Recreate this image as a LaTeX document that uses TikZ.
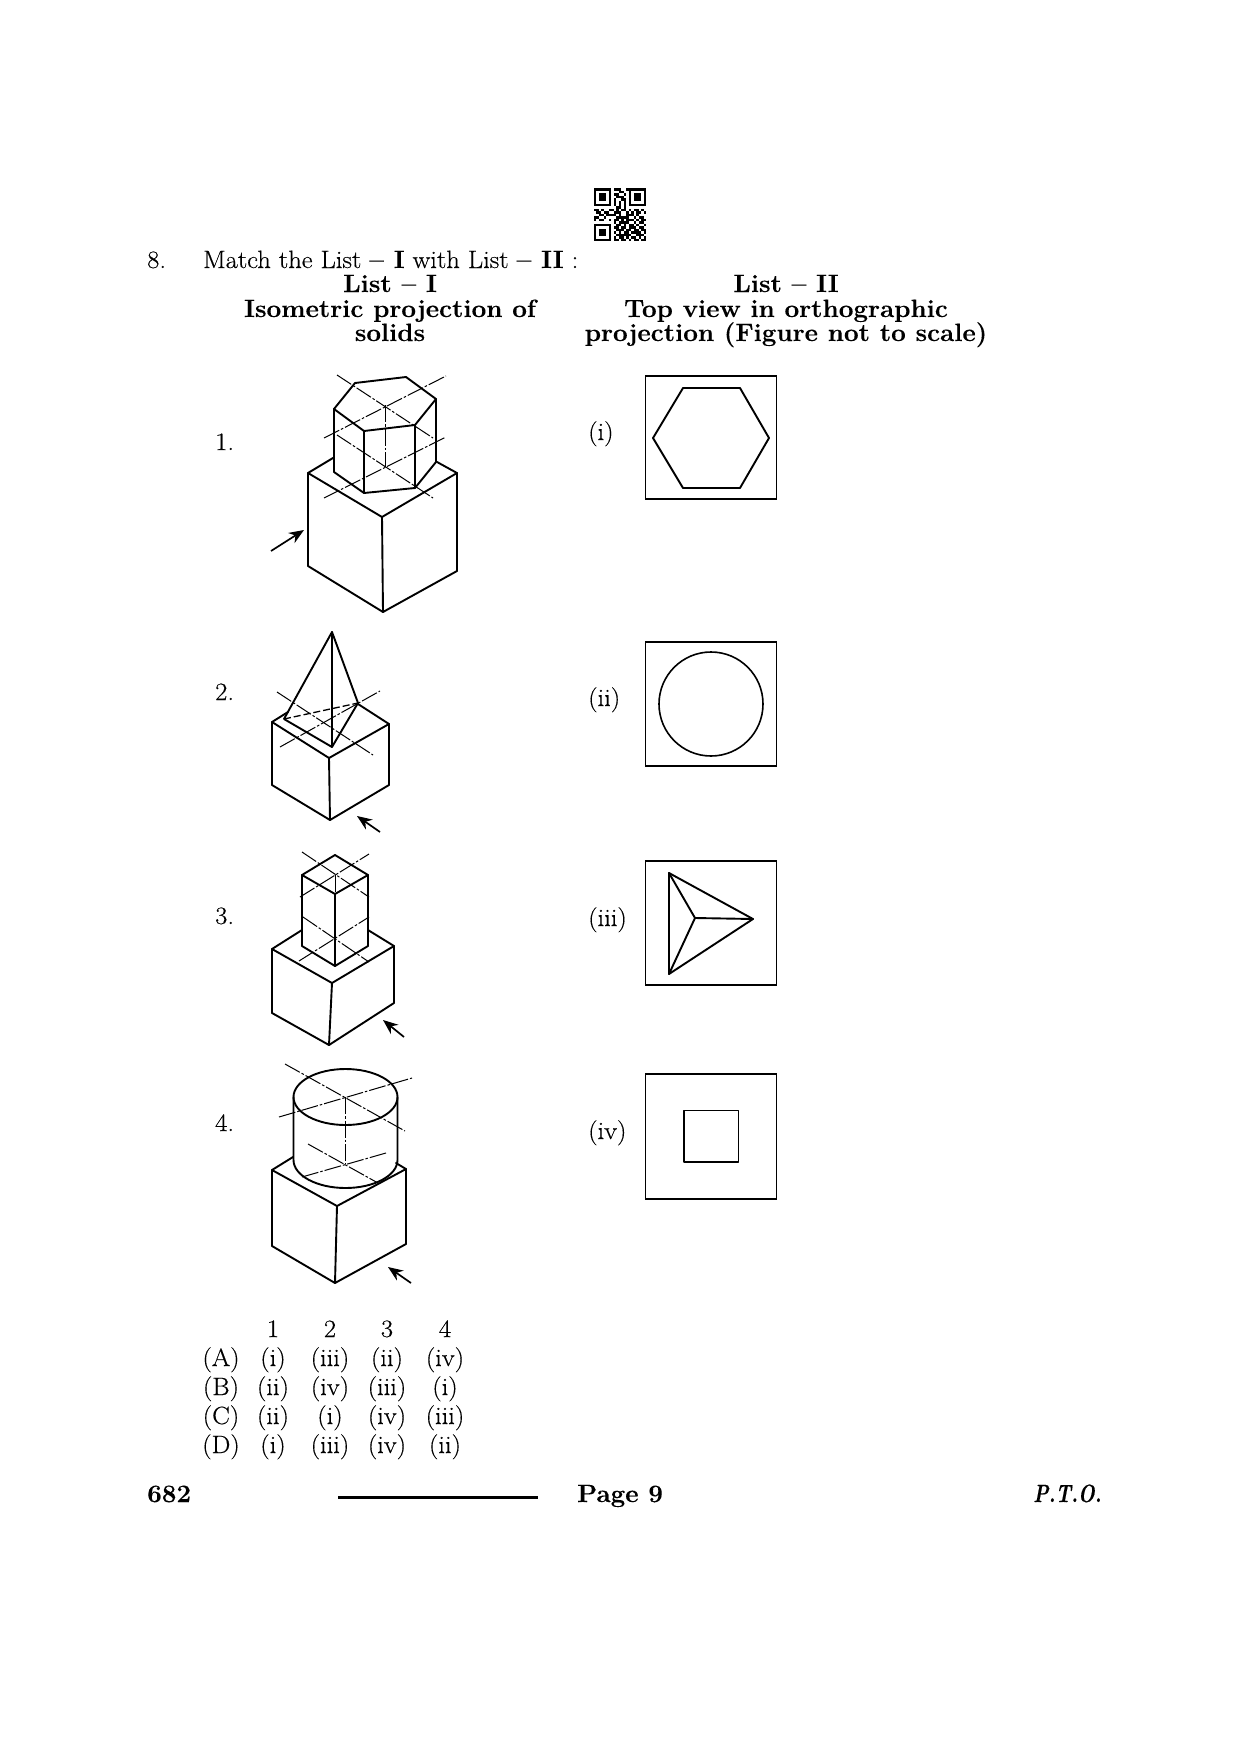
\documentclass[tikz,border=0pt]{standalone}
\usepackage{graphicx}
\usepackage{fontspec}
\setmainfont{Latin Modern Roman}[FakeStretch=1.06,FakeBold=0.35,BoldFeatures={FakeStretch=1.04,FakeBold=0.2},BoldItalicFeatures={FakeStretch=1.0}]
\usetikzlibrary{arrows.meta}
\tikzset{
  solid line/.style={line width=1.9pt,line join=round,line cap=round},
  center line/.style={line width=1pt,dash pattern=on 17pt off 2pt on 2.5pt off 2pt},
  hidden line/.style={line width=1.3pt,dash pattern=on 7pt off 3pt},
  view arrow/.style={line width=1.7pt,-{Stealth[length=15pt,width=12pt]}},
  frame box/.style={line width=1.5pt},
  bottom edge/.style={line width=2.6pt},
  txt/.style={inner sep=0pt,anchor=base,font=\fontsize{25}{28}\selectfont},
  txtl/.style={inner sep=0pt,anchor=base west,font=\fontsize{25}{28}\selectfont},
  head/.style={inner sep=0pt,anchor=base,font=\fontsize{25}{28}\selectfont\bfseries},
  qr cell/.style={fill=black,draw=none},
}
\begin{document}
\begin{tikzpicture}[x=1pt,y=-1pt]
\useasboundingbox (0,0) rectangle (1241,1755);
\fill[white] (0,0) rectangle (1241,1755);

% QR code
\foreach \r [count=\j from 0] in {
{1,1,1,1,1,1,1,0,1,1,1,0,0,1,1,1,1,1,1,1,1},
{1,0,0,0,0,0,1,0,0,0,1,1,0,0,1,0,0,0,0,0,1},
{1,0,1,1,1,0,1,0,1,1,0,0,1,0,1,0,1,1,1,0,1},
{1,0,1,1,1,0,1,0,0,1,1,1,0,0,1,0,1,1,1,0,1},
{1,0,1,1,1,0,1,0,1,0,0,1,1,0,1,0,1,1,1,0,1},
{1,0,0,0,0,0,1,0,1,0,1,0,1,0,1,0,0,0,0,0,1},
{1,1,1,1,1,1,1,0,1,0,1,0,1,0,1,1,1,1,1,1,1},
{0,0,0,0,0,0,0,0,0,1,1,0,1,0,0,0,0,0,0,0,0},
{1,1,0,1,0,0,1,1,0,1,0,1,1,0,1,0,1,1,0,1,0},
{0,1,1,0,1,1,0,0,1,1,1,0,0,1,0,1,0,1,1,0,1},
{0,0,1,1,0,1,1,1,1,0,1,0,0,1,1,1,0,1,0,0,0},
{1,1,0,0,1,0,0,0,0,1,1,1,1,1,0,0,1,0,1,1,0},
{1,0,1,1,0,0,1,0,1,1,0,1,0,1,1,1,0,1,0,1,1},
{0,0,0,0,0,0,0,0,1,0,1,1,1,1,0,0,1,0,1,1,0},
{1,1,1,1,1,1,1,0,0,1,1,0,1,0,1,1,0,1,0,0,1},
{1,0,0,0,0,0,1,0,1,1,0,1,1,0,1,1,1,0,1,1,0},
{1,0,1,1,1,0,1,0,0,1,1,1,0,1,1,0,1,1,0,1,1},
{1,0,1,1,1,0,1,0,1,0,1,0,1,1,0,1,1,1,1,0,1},
{1,0,1,1,1,0,1,0,0,1,1,1,1,1,1,0,0,1,1,1,0},
{1,0,0,0,0,0,1,0,1,0,1,1,0,1,0,1,1,0,1,0,1},
{1,1,1,1,1,1,1,0,1,1,0,1,1,0,1,0,1,1,0,1,1}}
{
  \foreach \b [count=\i from 0] in \r {
    \ifnum\b=1
      \fill[qr cell] ({593.5+\i*2.5},{188.5+\j*2.5}) rectangle ({593.5+(\i+1)*2.5},{188.5+(\j+1)*2.5});
    \fi
  }
}

% Heading
\node[txtl] (qno) at (147,268) {8.};
\node[txtl] (stem) at (203,268) {Match the List \textbf{-- I} with List \textbf{-- II} :};
\node[head] (h1a) at (390,292) {List -- I};
\node[head] (h1b) at (390,317) {Isometric projection of};
\node[head] (h1c) at (390,341) {solids};
\node[head] (h2a) at (786,292) {List -- II};
\node[head] (h2b) at (786,317) {Top view in orthographic};
\node[head] (h2c) at (786,341) {projection (Figure not to scale)};

% Figure numbers
\node[txtl] (n1) at (215,450) {1.};
\node[txtl] (n2) at (215,700) {2.};
\node[txtl] (n3) at (215,924) {3.};
\node[txtl] (n4) at (215,1131) {4.};

% Figure 1: hexagonal prism on a cube
\draw[solid line] (333,458) -- (308,473) -- (382,517) -- (457,473) -- (437,462);
\draw[solid line] (308,473) -- (308,566) -- (383,612) -- (457,571) -- (457,473);
\draw[solid line] (382,517) -- (383,612);
\draw[solid line] (355,383) -- (406,377) -- (436,399) -- (415,425) -- (364,431) -- (334,409) -- cycle;
\draw[solid line] (334,409) -- (334,472) -- (364,493) -- (415,488) -- (436,462) -- (436,399);
\draw[solid line] (364,431) -- (364,493);
\draw[solid line] (415,425) -- (415,488);
\draw[center line] (337,375) -- (433,438);
\draw[center line] (324,438) -- (446,376);
\draw[center line] (337,435) -- (433,498);
\draw[center line] (324,498) -- (446,437);
\draw[center line] (385,405) -- (385,467);
\draw[view arrow] (271,551) -- (304,530);

% Figure 2: pyramid on a cube
\draw[solid line] (288,712) -- (272,722) -- (329,758) -- (389,724) -- (358,704);
\draw[solid line] (272,722) -- (272,785) -- (330,820) -- (389,785) -- (389,724);
\draw[solid line] (329,758) -- (330,820);
\draw[solid line] (284,719) -- (332,632) -- (358,703) -- (332,747) -- cycle;
\draw[solid line] (332,632) -- (332,747);
\draw[hidden line] (284,719) -- (358,703);
\draw[center line] (277,692) -- (373,755);
\draw[center line] (280,747) -- (380,691);
\draw[view arrow] (380,832) -- (357,816);

% Figure 3: square prism on a cube
\draw[solid line] (302,930) -- (272,949) -- (332,983) -- (394,946) -- (368,930);
\draw[solid line] (272,949) -- (272,1013) -- (329,1045) -- (394,1003) -- (394,946);
\draw[solid line] (332,983) -- (329,1045);
\draw[solid line] (335,855) -- (368,875) -- (335,894) -- (302,875) -- cycle;
\draw[solid line] (302,875) -- (302,946) -- (335,966) -- (368,946) -- (368,875);
\draw[solid line] (335,894) -- (335,966);
\draw[center line] (302,852) -- (369,897);
\draw[center line] (300,897) -- (369,854);
\draw[center line] (303,917) -- (369,962);
\draw[center line] (299,961) -- (369,917);
\draw[center line] (335,875) -- (335,938);
\draw[view arrow] (404,1037) -- (383,1020);

% Figure 4: cylinder on a cube
\draw[solid line] (293,1157) -- (272,1170) -- (337,1206) -- (406,1169) -- (396,1163);
\draw[solid line] (272,1170) -- (272,1246) -- (335,1283) -- (406,1244) -- (406,1169);
\draw[solid line] (337,1206) -- (335,1283);
\draw[solid line] (345.5,1097) ellipse [x radius=52pt,y radius=28pt];
\draw[solid line] (293.5,1097) -- (293.5,1160) arc [start angle=180,end angle=360,x radius=52pt,y radius=28pt] -- (397.5,1097);
\draw[center line] (285,1064) -- (405,1131);
\draw[center line] (279,1117) -- (412,1078);
\draw[center line] (308,1144) -- (378,1183);
\draw[center line] (302,1177) -- (386,1153);
\draw[center line] (345.5,1097) -- (345.5,1164);
\draw[view arrow] (411,1283) -- (388,1267);

% List II boxes
\node[txtl] (li) at (588,440) {(i)};
\draw[frame box] (645.5,376) rectangle (776.5,499);
\draw[bottom edge] (645,499) -- (777,499);
\draw[solid line] (653,438) -- (683,388) -- (740,388) -- (769,438) -- (740,488) -- (683,488) -- cycle;

\node[txtl] (lii) at (588,706) {(ii)};
\draw[frame box] (645.5,642) rectangle (776.5,766);
\draw[solid line,line width=1.6pt] (711,704) circle [radius=52pt];

\node[txtl] (liii) at (588,926) {(iii)};
\draw[frame box] (645.5,861) rectangle (776.5,985);
\draw[bottom edge] (645,985) -- (777,985);
\draw[solid line] (669,873) -- (753,919) -- (669,974) -- cycle;
\draw[solid line] (669,873) -- (695,918) -- (669,974);
\draw[solid line] (695,918) -- (753,919);

\node[txtl] (liv) at (588,1139) {(iv)};
\draw[frame box] (645.5,1074) rectangle (776.5,1199);
\draw[bottom edge] (645,1199) -- (777,1199);
\draw[solid line,line width=1.6pt] (684,1110.5) rectangle (738.5,1162);

% Answer table
\node[txt] (c1) at (273,1337) {1};
\node[txt] (c2) at (330,1337) {2};
\node[txt] (c3) at (387,1337) {3};
\node[txt] (c4) at (445,1337) {4};
\node[txt] (ra) at (221,1366) {(A)};
\node[txt] (a1) at (273,1366) {(i)};
\node[txt] (a2) at (330,1366) {(iii)};
\node[txt] (a3) at (387,1366) {(ii)};
\node[txt] (a4) at (445,1366) {(iv)};
\node[txt] (rb) at (221,1395) {(B)};
\node[txt] (b1) at (273,1395) {(ii)};
\node[txt] (b2) at (330,1395) {(iv)};
\node[txt] (b3) at (387,1395) {(iii)};
\node[txt] (b4) at (445,1395) {(i)};
\node[txt] (rc) at (221,1424) {(C)};
\node[txt] (c1r) at (273,1424) {(ii)};
\node[txt] (c2r) at (330,1424) {(i)};
\node[txt] (c3r) at (387,1424) {(iv)};
\node[txt] (c4r) at (445,1424) {(iii)};
\node[txt] (rd) at (221,1453) {(D)};
\node[txt] (d1) at (273,1453) {(i)};
\node[txt] (d2) at (330,1453) {(iii)};
\node[txt] (d3) at (387,1453) {(iv)};
\node[txt] (d4) at (445,1453) {(ii)};

% Footer
\node[txtl,font=\fontsize{25}{28}\selectfont\bfseries] (code) at (147,1502) {682};
\draw[line width=3pt] (338,1497) -- (538,1497);
\node[txtl,font=\fontsize{25}{28}\selectfont\bfseries] (page) at (577,1502) {Page 9};
\node[txtl,font=\fontsize{25}{28}\selectfont\bfseries\itshape] (pto) at (1033,1502) {\scalebox{0.78}[1]{P.T.O.}};
\end{tikzpicture}
\end{document}
